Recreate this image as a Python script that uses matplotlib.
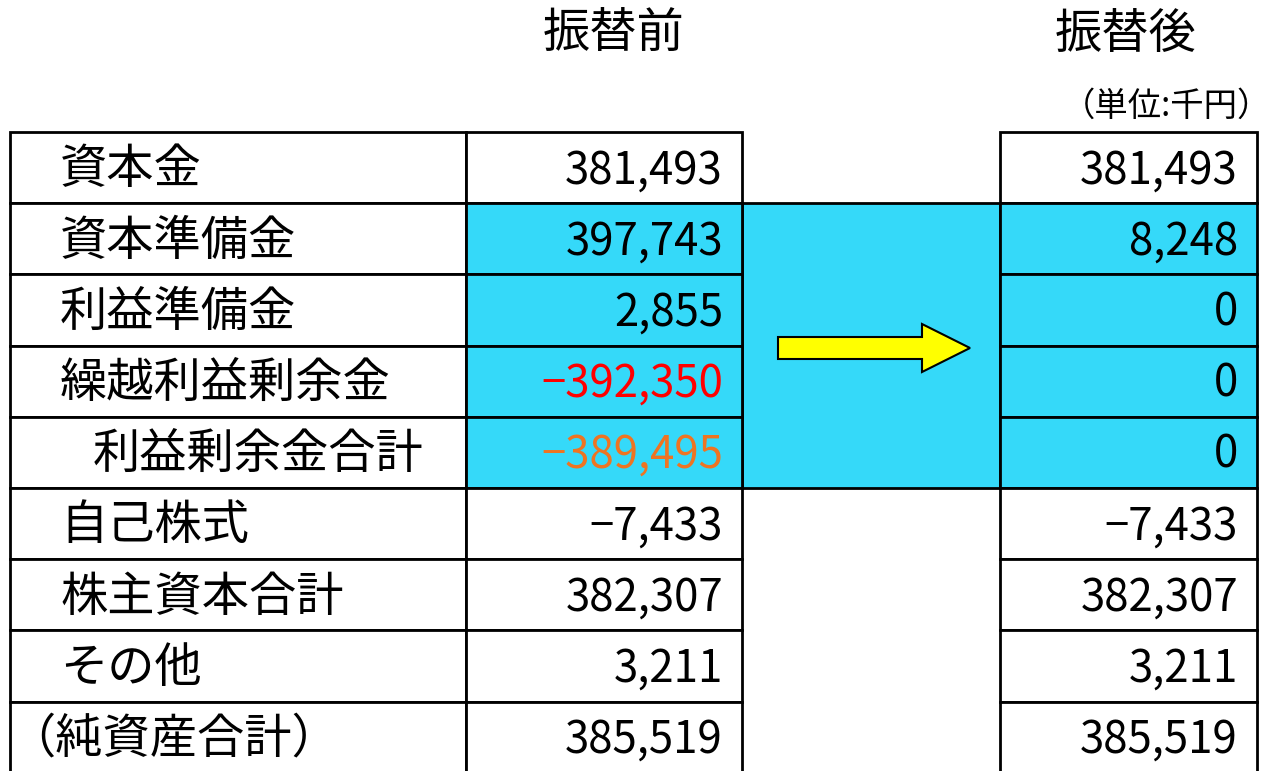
import matplotlib
matplotlib.use("Agg")
import matplotlib.pyplot as plt
from matplotlib.patches import Rectangle, FancyArrow

plt.rcParams['font.family'] = ['Noto Sans CJK JP', 'DejaVu Sans']

# =========================
# データ (単位: 千円)
# =========================
labels = ["資本金", "資本準備金", "利益準備金", "繰越利益剰余金", "利益剰余金合計",
          "自己株式", "株主資本合計", "その他", "（純資産合計）"]
before = [381493, 397743, 2855, -392350, -389495, -7433, 382307, 3211, 385519]
after = [381493, 8248, 0, 0, 0, -7433, 382307, 3211, 385519]
header_before = "振替前"
header_after = "振替後"
unit_text = "（単位:千円）"

highlight_rows = [1, 2, 3, 4]
before_colors = {3: "#FF0000", 4: "#EE7422"}
indent_rows = {4: 33, 8: -52}

# =========================
# レイアウト
# =========================
W, H = 1272, 771
top = 132
row_h = 71.2
x_label = 10
x_div = 466
x_left_end = 742
x_right = 1000
x_right_end = 1257
cyan = "#35D9F9"
lw = 2.0
fs_label = 34
fs_num = 31.5


def fmt(v):
    return f"{v:,}".replace("-", "−")


fig = plt.figure(figsize=(W / 100, H / 100), dpi=100)
ax = fig.add_axes([0, 0, 1, 1])
ax.set_xlim(0, W)
ax.set_ylim(H, 0)
ax.axis("off")

# 中央の帯 (振替対象)
r0, r1 = min(highlight_rows), max(highlight_rows)
ax.add_patch(Rectangle((x_left_end, top + r0 * row_h), x_right - x_left_end,
                       (r1 - r0 + 1) * row_h, facecolor=cyan, edgecolor="black", lw=lw, zorder=1))

for i, (lab, b, a) in enumerate(zip(labels, before, after)):
    y = top + i * row_h
    yc = y + row_h / 2 + 2.5
    fill = cyan if i in highlight_rows else "white"
    ax.add_patch(Rectangle((x_label, y), x_div - x_label, row_h,
                           facecolor="white", edgecolor="black", lw=lw, zorder=2))
    ax.add_patch(Rectangle((x_div, y), x_left_end - x_div, row_h,
                           facecolor=fill, edgecolor="black", lw=lw, zorder=2))
    ax.add_patch(Rectangle((x_right, y), x_right_end - x_right, row_h,
                           facecolor=fill, edgecolor="black", lw=lw, zorder=2))

    ax.text(60 + indent_rows.get(i, 0), yc, lab, fontsize=fs_label, ha="left", va="center", zorder=3)
    ax.text(x_left_end - 19, yc, fmt(b), fontsize=fs_num, ha="right", va="center",
            color=before_colors.get(i, "black"), zorder=3)
    ax.text(x_right_end - 19, yc, fmt(a), fontsize=fs_num, ha="right", va="center", zorder=3)

# 矢印
ax.add_patch(FancyArrow(778, 348, 192, 0, width=22, head_width=48, head_length=48,
                        length_includes_head=True, facecolor="#FFFF00",
                        edgecolor="black", lw=1.5, zorder=4))

# 見出し
ax.text(614, 35, header_before, fontsize=fs_label, ha="center", va="center")
ax.text(1126, 35, header_after, fontsize=fs_label, ha="center", va="center")
ax.text(1271, 106, unit_text, fontsize=24, ha="right", va="center")

fig.savefig("out.png", dpi=100)
